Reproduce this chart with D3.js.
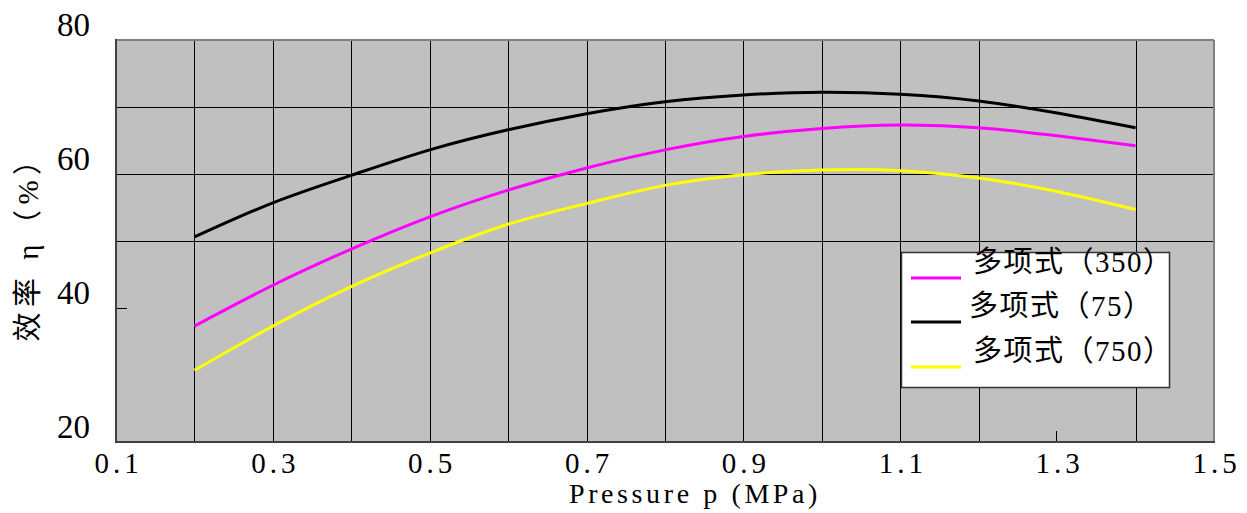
<!DOCTYPE html>
<html>
<head>
<meta charset="utf-8">
<script src="https://cdn.jsdelivr.net/npm/d3@7"></script>
<style>
  html, body { margin: 0; padding: 0; background: #ffffff; }
  svg { display: block; }
</style>
</head>
<body>
<div id="chart"></div>
<script>
// ---- data ----
const pressure = [0.2, 0.3, 0.4, 0.5, 0.6, 0.7, 0.8, 0.9, 1.0, 1.1, 1.2, 1.3, 1.4];
const eff350 = [37.3, 43.4, 48.8, 53.6, 57.6, 60.9, 63.6, 65.6, 66.8, 67.3, 66.9, 65.7, 64.2];
const eff75  = [50.6, 55.7, 59.8, 63.6, 66.6, 69.0, 70.8, 71.8, 72.2, 71.9, 70.9, 69.1, 66.9];
const eff750 = [30.7, 37.3, 43.2, 48.2, 52.5, 55.6, 58.3, 59.9, 60.6, 60.5, 59.4, 57.4, 54.7];
const seriesNames = ["多项式（350）", "多项式（75）", "多项式（750）"];
const seriesColors = ["#ff00ff", "#000000", "#ffff00"];
const xTickValues = [0.1, 0.3, 0.5, 0.7, 0.9, 1.1, 1.3, 1.5];
const yTickValues = [20, 40, 60, 80];
const xGridValues = [0.2, 0.3, 0.4, 0.5, 0.6, 0.7, 0.8, 0.9, 1.0, 1.1, 1.2, 1.4];
const yGridValues = [50, 60, 70];
const yMinorTicks = [40, 60, 80];
const xMinorTicks = [1.3, 1.5];
const xTitle = "Pressure p (MPa)";
const yTitle = "效率 η（%）";

const series = [eff350, eff75, eff750];

// ---- layout ----
const W = 1247, H = 513;
const pLeft = 116, pRight = 1214, pTop = 40, pBottom = 442;

const svg = d3.select("#chart").append("svg").attr("width", W).attr("height", H);

const x = d3.scaleLinear().domain([0.1, 1.5]).range([pLeft, pRight]);
const y = d3.scaleLinear().domain([20, 80]).range([pBottom, pTop]);

// background
svg.append("rect").attr("x", pLeft).attr("y", pTop)
  .attr("width", pRight - pLeft).attr("height", pBottom - pTop).attr("fill", "#c0c0c0");

// gridlines
svg.append("g").selectAll("line").data(xGridValues).join("line")
  .attr("x1", d => Math.round(x(d)) + 0.5).attr("x2", d => Math.round(x(d)) + 0.5)
  .attr("y1", pTop).attr("y2", pBottom)
  .attr("stroke", "#000").attr("stroke-width", 1);
svg.append("g").selectAll("line").data(yGridValues).join("line")
  .attr("y1", d => Math.round(y(d)) + 0.5).attr("y2", d => Math.round(y(d)) + 0.5)
  .attr("x1", pLeft).attr("x2", pRight)
  .attr("stroke", "#000").attr("stroke-width", 1);

// minor ticks
svg.append("g").selectAll("line").data(yMinorTicks).join("line")
  .attr("y1", d => Math.round(y(d)) + 0.5).attr("y2", d => Math.round(y(d)) + 0.5)
  .attr("x1", pLeft).attr("x2", pLeft + 11)
  .attr("stroke", "#000").attr("stroke-width", 1);
svg.append("g").selectAll("line").data(xMinorTicks).join("line")
  .attr("x1", d => Math.round(x(d)) - 0.5).attr("x2", d => Math.round(x(d)) - 0.5)
  .attr("y1", pBottom).attr("y2", pBottom - 11)
  .attr("stroke", "#000").attr("stroke-width", 1);

// curves
const line = d3.line().x((d, i) => x(pressure[i])).y(d => y(d)).curve(d3.curveNatural);
svg.append("g").selectAll("path").data(series).join("path")
  .attr("d", d => line(d))
  .attr("fill", "none")
  .attr("stroke", (d, i) => seriesColors[i])
  .attr("stroke-width", 3);

// frame
svg.append("line").attr("x1", pLeft).attr("x2", pRight).attr("y1", pTop).attr("y2", pTop)
  .attr("stroke", "#808080").attr("stroke-width", 2);
svg.append("line").attr("x1", pRight).attr("x2", pRight).attr("y1", pTop).attr("y2", pBottom)
  .attr("stroke", "#808080").attr("stroke-width", 2);
svg.append("line").attr("x1", pLeft).attr("x2", pLeft).attr("y1", pTop - 1).attr("y2", pBottom + 1)
  .attr("stroke", "#404040").attr("stroke-width", 2);
svg.append("line").attr("x1", pLeft - 1).attr("x2", pRight + 1).attr("y1", pBottom).attr("y2", pBottom)
  .attr("stroke", "#404040").attr("stroke-width", 2);

// axes (labels only)
const xAxis = svg.append("g").attr("transform", `translate(0,${pBottom})`)
  .call(d3.axisBottom(x).tickValues(xTickValues).tickSize(0).tickFormat(d3.format(".1f")));
xAxis.select(".domain").remove();
xAxis.selectAll("text")
  .attr("y", 31).attr("dy", 0).attr("dx", 2)
  .attr("fill", "#000")
  .style("font-family", "'Liberation Serif', serif")
  .style("font-size", "29px")
  .style("letter-spacing", "4px");

const yAxis = svg.append("g").attr("transform", `translate(${pLeft},0)`)
  .call(d3.axisLeft(y).tickValues(yTickValues).tickSize(0).tickFormat(d3.format("d")));
yAxis.select(".domain").remove();
yAxis.selectAll("text")
  .attr("x", -26).attr("y", -16).attr("dy", "0.35em")
  .attr("fill", "#000")
  .style("font-family", "'Liberation Serif', serif")
  .style("font-size", "33px");

// axis titles
svg.append("text")
  .attr("x", 695).attr("y", 503)
  .attr("text-anchor", "middle")
  .style("font-family", "'Liberation Serif', serif")
  .style("font-size", "28px")
  .style("letter-spacing", "3.6px")
  .attr("fill", "#000")
  .text(xTitle);

svg.append("text")
  .attr("transform", "translate(38,241) rotate(-90)")
  .attr("text-anchor", "middle")
  .style("font-family", "'Liberation Serif', 'Noto Sans CJK SC', serif")
  .style("font-size", "29px")
  .style("letter-spacing", "5.5px")
  .attr("fill", "#000")
  .text(yTitle);

// legend
const lg = svg.append("g");
lg.append("rect").attr("x", 901.5).attr("y", 252.5).attr("width", 268).attr("height", 135)
  .attr("fill", "#fff").attr("stroke", "#333").attr("stroke-width", 1.5);
const legendRows = [278, 322, 367];
const textX = [973, 969, 973];
seriesNames.forEach((name, i) => {
  lg.append("line").attr("x1", 911).attr("x2", 961)
    .attr("y1", legendRows[i]).attr("y2", legendRows[i])
    .attr("stroke", seriesColors[i]).attr("stroke-width", 3);
  lg.append("text").attr("x", textX[i]).attr("y", legendRows[i] - 6)
    .style("font-family", "'Liberation Serif', 'Noto Sans CJK SC', serif")
    .style("font-size", "29px")
    .style("letter-spacing", "1.5px")
    .attr("fill", "#000")
    .text(name);
});
</script>
</body>
</html>
